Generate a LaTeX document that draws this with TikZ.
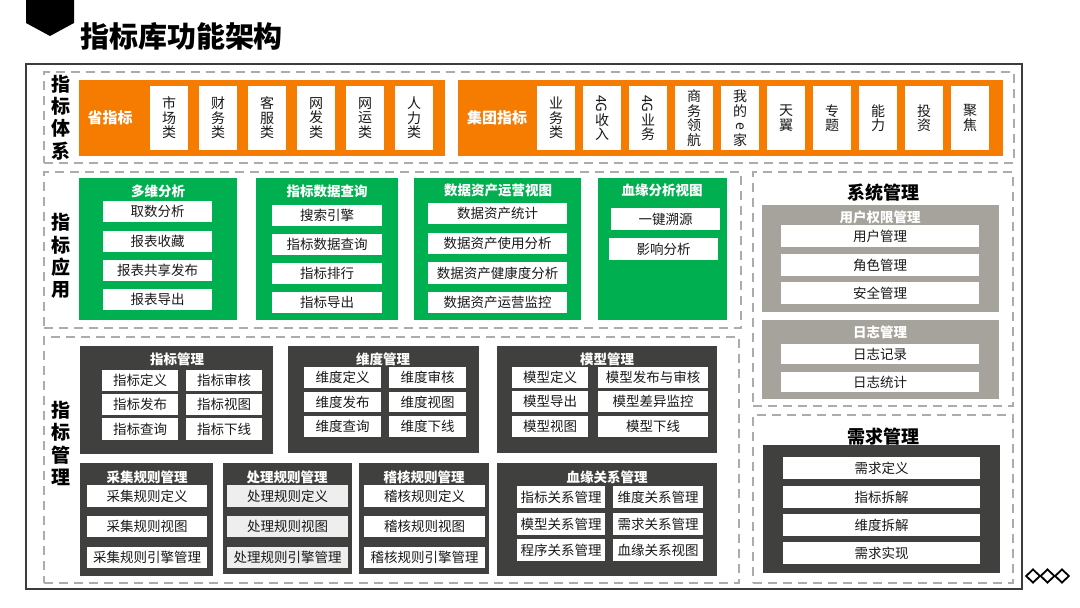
\documentclass[tikz,border=0pt]{standalone}
\usepackage{fontspec}
\usepackage{graphicx}
\setmainfont{Noto Sans CJK SC}
\usetikzlibrary{shapes.geometric}
\definecolor{orangeC}{RGB}{245,124,0}
\definecolor{greenC}{RGB}{0,176,80}
\definecolor{darkC}{RGB}{64,64,62}
\definecolor{grayC}{RGB}{165,163,155}
\definecolor{dashC}{RGB}{172,172,172}
\definecolor{frameC}{RGB}{60,60,60}
\definecolor{textC}{RGB}{25,25,25}
\definecolor{lightC}{RGB}{238,238,238}
\tikzset{
 base/.style={inner sep=0pt, outer sep=0pt},
 frm/.style={base, draw=frameC, line width=1.5pt},
 dbox/.style={base, draw=dashC, dash pattern=on 9pt off 6pt, line width=1.6pt},
 obox/.style={base, fill=orangeC},
 gbox/.style={base, fill=greenC},
 kbox/.style={base, fill=darkC},
 sbox/.style={base, fill=grayC},
 card/.style={base, fill=white, text=textC, font=\fontsize{14}{14.5}\selectfont, align=center},
 item/.style={base, fill=white, text=textC, font=\fontsize{13.5}{16}\selectfont},
 litem/.style={item, fill=lightC},
 ttl/.style={base, font=\bfseries\fontsize{13.5}{16}\selectfont, text=white},
 lbl/.style={base, font=\bfseries\fontsize{19}{22.3}\selectfont, align=center, text=black},
 sttl/.style={base, font=\bfseries\fontsize{18}{20}\selectfont, text=black},
 dia/.style={diamond, draw=black, line width=1.8pt, minimum width=14.4pt, minimum height=14pt, inner sep=0pt},
}
\newcommand\bx[7]{\node[#6, minimum width={((#4)-(#2))*1pt}, minimum height={((#5)-(#3))*1pt}] (#1) at ({((#2)+(#4))/2},{((#3)+(#5))/2}) {#7};}
\newcommand\rt[1]{\rotatebox[origin=c]{-90}{#1}}
\begin{document}
\begin{tikzpicture}[x=1pt,y=-1pt]
\useasboundingbox (0,0) rectangle (1080,608);
% header
\fill[black] (26,0) -- (74,0) -- (74,23) -- (50,36) -- (26,23) -- cycle;
\node[base, anchor=west, font=\bfseries\fontsize{29}{32}\selectfont] (title) at (80,36) {指标库功能架构};
% outer frame
\bx{frame}{26}{64}{1022}{589}{frm}{}
% ===== row 1
\bx{d1}{44}{72}{1014}{163}{dbox}{}
\node[lbl] (L1) at (61,117.5) {指\\标\\体\\系};
\bx{o1}{79}{80}{445}{156}{obox}{}
\node[base, text=white, font=\bfseries\fontsize{15}{17}\selectfont] (o1t) at (110,118) {省指标};
\foreach \t [count=\i from 0] in {{市\\场\\类},{财\\务\\类},{客\\服\\类},{网\\发\\类},{网\\运\\类},{人\\力\\类}}{
  \node[card, minimum width=38pt, minimum height=64pt] (p\i) at ({169+49*\i},118) {\t};
}
\bx{o2}{458}{80}{1003}{156}{obox}{}
\node[base, text=white, font=\bfseries\fontsize{15}{17}\selectfont] (o2t) at (497,118) {集团指标};
\foreach \t [count=\i from 0] in {{业\\务\\类},{\rt{4G}\\收\\入},{\rt{4G}\\业\\务},{商\\务\\领\\航},{我\\的\\\rt{e}\\家},{天\\翼},{专\\题},{能\\力},{投\\资},{聚\\焦}}{
  \node[card, minimum width=38pt, minimum height=64pt] (q\i) at ({556+46*\i},118) {\t};
}
% ===== row 2
\bx{d2}{44}{172}{741}{328}{dbox}{}
\node[lbl] (L2) at (61,256) {指\\标\\应\\用};
% green 1
\bx{g1}{79}{178}{237}{320}{gbox}{}
\node[ttl] (g1t) at (158,191) {多维分析};
\bx{g1a}{103}{201}{212}{222}{item}{取数分析}
\bx{g1b}{103}{230.5}{212}{251.5}{item}{报表收藏}
\bx{g1c}{103}{260}{212}{281}{item}{报表共享发布}
\bx{g1d}{103}{289}{212}{310}{item}{报表导出}
% green 2
\bx{g2}{256}{178}{398}{320}{gbox}{}
\node[ttl] (g2t) at (327,191) {指标数据查询};
\bx{g2a}{272}{205}{382}{226}{item}{搜索引擎}
\bx{g2b}{272}{234}{382}{255}{item}{指标数据查询}
\bx{g2c}{272}{263}{382}{284}{item}{指标排行}
\bx{g2d}{272}{292}{382}{313}{item}{指标导出}
% green 3
\bx{g3}{414}{178}{581}{320}{gbox}{}
\node[ttl] (g3t) at (498,190) {数据资产运营视图};
\bx{g3a}{428}{203}{567}{224}{item}{数据资产统计}
\bx{g3b}{428}{233}{567}{254}{item}{数据资产使用分析}
\bx{g3c}{428}{262}{567}{284}{item}{数据资产健康度分析}
\bx{g3d}{428}{292}{567}{313}{item}{数据资产运营监控}
% green 4
\bx{g4}{598}{178}{727}{320}{gbox}{}
\node[ttl] (g4t) at (662,190) {血缘分析视图};
\bx{g4a}{611}{208}{720}{230}{item}{一键溯源}
\bx{g4b}{609}{238}{718}{260}{item}{影响分析}
% ===== system management
\bx{ds}{753}{172}{1013}{406}{dbox}{}
\node[sttl] (dst) at (883,193) {系统管理};
\bx{s1}{762}{205}{999}{312}{sbox}{}
\node[ttl] (s1t) at (880,217) {用户权限管理};
\bx{s1a}{781}{225}{979}{247}{item}{用户管理}
\bx{s1b}{781}{254}{979}{276}{item}{角色管理}
\bx{s1c}{781}{282}{979}{304}{item}{安全管理}
\bx{s2}{762}{320}{999}{399}{sbox}{}
\node[ttl] (s2t) at (880,332) {日志管理};
\bx{s2a}{781}{344}{979}{364}{item}{日志记录}
\bx{s2b}{781}{372}{979}{392}{item}{日志统计}
% ===== row 3
\bx{d3}{44}{337}{739}{583}{dbox}{}
\node[lbl] (L3) at (61,443.5) {指\\标\\管\\理};
% dark 1
\bx{k1}{80}{346}{273}{454}{kbox}{}
\node[ttl] (k1t) at (177,359) {指标管理};
\bx{k1a}{102}{370}{178}{391}{item}{指标定义}
\bx{k1b}{186}{370}{262}{391}{item}{指标审核}
\bx{k1c}{102}{394}{178}{415}{item}{指标发布}
\bx{k1d}{186}{394}{262}{415}{item}{指标视图}
\bx{k1e}{102}{418}{178}{440}{item}{指标查询}
\bx{k1f}{186}{418}{262}{440}{item}{指标下线}
% dark 2
\bx{k2}{288}{346}{479}{453}{kbox}{}
\node[ttl] (k2t) at (383,359) {维度管理};
\bx{k2a}{304}{367}{381}{388}{item}{维度定义}
\bx{k2b}{389}{367}{466}{388}{item}{维度审核}
\bx{k2c}{304}{392}{381}{412}{item}{维度发布}
\bx{k2d}{389}{392}{466}{412}{item}{维度视图}
\bx{k2e}{304}{416}{381}{437}{item}{维度查询}
\bx{k2f}{389}{416}{466}{437}{item}{维度下线}
% dark 3
\bx{k3}{497}{346}{717}{453}{kbox}{}
\node[ttl] (k3t) at (607,359) {模型管理};
\bx{k3a}{512}{367}{588}{388}{item}{模型定义}
\bx{k3b}{598}{367}{708}{388}{item}{模型发布与审核}
\bx{k3c}{512}{391}{588}{412}{item}{模型导出}
\bx{k3d}{598}{391}{708}{412}{item}{模型差异监控}
\bx{k3e}{512}{416}{588}{437}{item}{模型视图}
\bx{k3f}{598}{416}{708}{437}{item}{模型下线}
% dark 4
\bx{k4}{80}{463}{213}{576}{kbox}{}
\node[ttl] (k4t) at (147,477) {采集规则管理};
\bx{k4a}{87}{485}{207}{507}{item}{采集规则定义}
\bx{k4b}{87}{516}{207}{537}{item}{采集规则视图}
\bx{k4c}{87}{547}{207}{568}{item}{采集规则引擎管理}
% dark 5
\bx{k5}{223}{463}{352}{574}{kbox}{}
\node[ttl] (k5t) at (287,477) {处理规则管理};
\bx{k5a}{227}{485}{348}{507}{litem}{处理规则定义}
\bx{k5b}{227}{516}{348}{537}{litem}{处理规则视图}
\bx{k5c}{227}{547}{348}{568}{litem}{处理规则引擎管理}
% dark 6
\bx{k6}{359}{463}{489}{574}{kbox}{}
\node[ttl] (k6t) at (424,477) {稽核规则管理};
\bx{k6a}{364}{485}{485}{507}{item}{稽核规则定义}
\bx{k6b}{364}{516}{485}{537}{item}{稽核规则视图}
\bx{k6c}{364}{547}{485}{568}{item}{稽核规则引擎管理}
% dark 7
\bx{k7}{497}{463}{717}{576}{kbox}{}
\node[ttl] (k7t) at (607,477) {血缘关系管理};
\bx{k7a}{517}{486}{605}{508}{item}{指标关系管理}
\bx{k7b}{613}{486}{703}{508}{item}{维度关系管理}
\bx{k7c}{517}{513}{605}{535}{item}{模型关系管理}
\bx{k7d}{613}{513}{703}{535}{item}{需求关系管理}
\bx{k7e}{517}{539}{605}{561}{item}{程序关系管理}
\bx{k7f}{613}{539}{703}{561}{item}{血缘关系视图}
% ===== requirement management
\bx{dr}{753}{415}{1013}{583}{dbox}{}
\node[sttl] (drt) at (883,437) {需求管理};
\bx{r1}{763}{445}{1000}{573}{kbox}{}
\bx{r1a}{783}{457}{980}{479}{item}{需求定义}
\bx{r1b}{783}{486}{980}{508}{item}{指标拆解}
\bx{r1c}{783}{514}{980}{536}{item}{维度拆解}
\bx{r1d}{783}{542}{980}{564}{item}{需求实现}
% diamonds
\node[dia] (dm1) at (1033,576) {};
\node[dia] (dm2) at (1047.5,576) {};
\node[dia] (dm3) at (1062,576) {};
\end{tikzpicture}
\end{document}
